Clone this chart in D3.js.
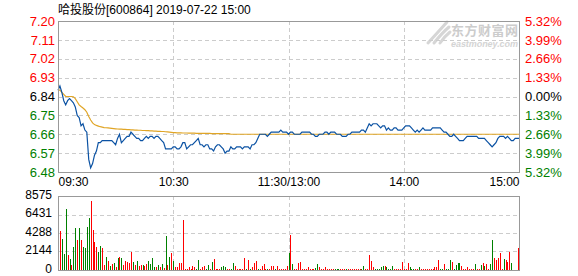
<!DOCTYPE html>
<html>
<head>
<meta charset="utf-8">
<script src="https://cdn.jsdelivr.net/npm/d3@7"></script>
<style>
  body { margin: 0; background: #fff; }
  svg { display: block; font-family: "Liberation Sans", Arial, "Noto Sans CJK SC", sans-serif; }
  .grid line { stroke: #ccc; stroke-dasharray: 4,3; shape-rendering: crispEdges; }
  .grid .domain { display: none; }
  .lbl .domain { display: none; }
</style>
</head>
<body>
<svg id="chart" width="578" height="276"></svg>
<script>
// chart data
const title = "哈投股份[600864] 2019-07-22 15:00";
const timeTicks = [0, 60, 120, 180, 240];
const timeLabels = ["09:30", "10:30", "11:30/13:00", "14:00", "15:00"];
const priceTicks = [7.20, 7.11, 7.02, 6.93, 6.84, 6.75, 6.66, 6.57, 6.48];
const pctLabels = ["5.32%", "3.99%", "2.66%", "1.33%", "0.00%", "1.33%", "2.66%", "3.99%", "5.32%"];
const preClose = 6.84;
const volTicks = [0, 2144, 4288, 6431, 8575];

// one value per minute, 09:30 .. 15:00
const price = [
  6.87, 6.89, 6.86, 6.82, 6.80, 6.82, 6.83, 6.82, 6.81, 6.79,
  6.75, 6.74, 6.70, 6.71, 6.68, 6.67, 6.54, 6.50, 6.52, 6.56,
  6.58, 6.62, 6.62, 6.63, 6.63, 6.63, 6.63, 6.63, 6.63, 6.62,
  6.61, 6.64, 6.66, 6.62, 6.63, 6.64, 6.65, 6.65, 6.67, 6.66,
  6.65, 6.64, 6.64, 6.63, 6.63, 6.64, 6.65, 6.64, 6.65, 6.65,
  6.64, 6.65, 6.65, 6.64, 6.63, 6.62, 6.59, 6.59, 6.59, 6.59,
  6.60, 6.60, 6.59, 6.59, 6.60, 6.62, 6.62, 6.59, 6.60, 6.61,
  6.61, 6.62, 6.63, 6.64, 6.61, 6.61, 6.60, 6.61, 6.61, 6.59,
  6.59, 6.58, 6.60, 6.61, 6.61, 6.60, 6.59, 6.57, 6.58, 6.58,
  6.60, 6.59, 6.59, 6.60, 6.60, 6.60, 6.59, 6.60, 6.60, 6.60,
  6.59, 6.61, 6.61, 6.62, 6.64, 6.66, 6.66, 6.66, 6.66, 6.65,
  6.66, 6.67, 6.67, 6.67, 6.67, 6.67, 6.68, 6.67, 6.67, 6.67,
  6.66, 6.67, 6.67, 6.66, 6.66, 6.66, 6.66, 6.67, 6.67, 6.67,
  6.67, 6.67, 6.66, 6.66, 6.65, 6.65, 6.66, 6.66, 6.66, 6.67,
  6.67, 6.66, 6.67, 6.67, 6.67, 6.66, 6.66, 6.66, 6.65, 6.65,
  6.65, 6.66, 6.66, 6.67, 6.67, 6.67, 6.67, 6.67, 6.68, 6.68,
  6.67, 6.69, 6.71, 6.70, 6.71, 6.71, 6.71, 6.70, 6.69, 6.70,
  6.70, 6.68, 6.69, 6.68, 6.68, 6.69, 6.69, 6.68, 6.68, 6.68,
  6.69, 6.70, 6.70, 6.70, 6.69, 6.68, 6.67, 6.68, 6.67, 6.68,
  6.69, 6.68, 6.68, 6.68, 6.68, 6.69, 6.69, 6.69, 6.69, 6.69,
  6.68, 6.67, 6.67, 6.66, 6.65, 6.65, 6.66, 6.65, 6.64, 6.63,
  6.63, 6.63, 6.64, 6.65, 6.65, 6.65, 6.65, 6.65, 6.65, 6.64,
  6.64, 6.64, 6.64, 6.63, 6.62, 6.61, 6.60, 6.61, 6.62, 6.64,
  6.65, 6.65, 6.65, 6.64, 6.65, 6.64, 6.63, 6.63, 6.64, 6.64, 6.64
];

const avgPrice = [
  6.870, 6.870, 6.860, 6.850, 6.840, 6.840, 6.840, 6.840, 6.838, 6.830,
  6.815, 6.800, 6.792, 6.785, 6.777, 6.765, 6.745, 6.728, 6.714, 6.706,
  6.702, 6.699, 6.696, 6.694, 6.692, 6.691, 6.690, 6.689, 6.688, 6.687,
  6.686, 6.685, 6.684, 6.684, 6.683, 6.683, 6.682, 6.682, 6.681, 6.681,
  6.680, 6.680, 6.679, 6.679, 6.678, 6.678, 6.677, 6.677, 6.676, 6.676,
  6.675, 6.675, 6.674, 6.674, 6.673, 6.673, 6.672, 6.671, 6.670, 6.669,
  6.668, 6.668, 6.667, 6.667, 6.667, 6.666, 6.666, 6.666, 6.665, 6.665,
  6.665, 6.665, 6.664, 6.664, 6.664, 6.664, 6.664, 6.664, 6.664, 6.664,
  6.663, 6.663, 6.663, 6.663, 6.663, 6.663, 6.663, 6.663, 6.663, 6.663,
  6.660, 6.660, 6.660, 6.660, 6.660, 6.660, 6.660, 6.660, 6.660, 6.660,
  6.660, 6.660, 6.660, 6.660, 6.660, 6.660, 6.660, 6.660, 6.660, 6.660,
  6.660, 6.660, 6.660, 6.660, 6.660, 6.660, 6.660, 6.660, 6.660, 6.660,
  6.660, 6.660, 6.660, 6.660, 6.660, 6.660, 6.660, 6.660, 6.660, 6.660,
  6.660, 6.660, 6.660, 6.660, 6.660, 6.660, 6.660, 6.660, 6.660, 6.660,
  6.660, 6.660, 6.660, 6.660, 6.660, 6.660, 6.660, 6.660, 6.660, 6.660,
  6.660, 6.660, 6.660, 6.660, 6.660, 6.660, 6.660, 6.660, 6.660, 6.660,
  6.660, 6.660, 6.660, 6.660, 6.660, 6.660, 6.660, 6.660, 6.660, 6.660,
  6.660, 6.660, 6.660, 6.660, 6.660, 6.660, 6.660, 6.660, 6.660, 6.660,
  6.660, 6.660, 6.660, 6.660, 6.660, 6.660, 6.660, 6.660, 6.660, 6.660,
  6.660, 6.660, 6.660, 6.660, 6.660, 6.660, 6.660, 6.660, 6.660, 6.660,
  6.660, 6.660, 6.660, 6.660, 6.660, 6.660, 6.660, 6.660, 6.660, 6.660,
  6.660, 6.660, 6.660, 6.660, 6.660, 6.660, 6.660, 6.660, 6.660, 6.660,
  6.660, 6.660, 6.660, 6.660, 6.660, 6.660, 6.660, 6.660, 6.660, 6.660,
  6.660, 6.660, 6.660, 6.660, 6.660, 6.660, 6.660, 6.660, 6.660, 6.660, 6.660
];

const volume = [
  0, 4560, 3580, 1890, 7110, 1690, 1300, 630, 2670, 4870,
  3500, 4870, 3500, 2670, 2590, 5030, 6050, 7980, 4680, 3260,
  2710, 2080, 2750, 2515, 630, 1530, 1020, 430, 710, 825,
  315, 1340, 1530, 1340, 550, 1100, 900, 825, 2040, 940,
  630, 1020, 430, 630, 550, 430, 750, 1020, 750, 1415,
  315, 315, 630, 315, 710, 200, 3930, 630, 1490, 2000,
  1100, 315, 315, 785, 825, 5800, 60, 100, 300, 100,
  430, 300, 100, 1150, 100, 300, 460, 100, 580, 100,
  900, 1270, 80, 80, 80, 350, 460, 310, 80, 80,
  150, 810, 460, 150, 80, 80, 80, 1390, 150, 1160,
  80, 350, 810, 1040, 80, 150, 500, 690, 80, 80,
  150, 460, 460, 150, 460, 80, 80, 80, 80, 460,
  1970, 4010, 690, 80, 80, 810, 930, 80, 80, 80,
  350, 80, 80, 150, 200, 690, 350, 80, 80, 350,
  80, 80, 80, 150, 80, 80, 80, 80, 150, 80,
  80, 80, 150, 80, 80, 80, 80, 150, 80, 460,
  80, 80, 1740, 1040, 350, 80, 80, 80, 350, 460,
  460, 350, 150, 80, 460, 80, 80, 80, 150, 930,
  80, 80, 810, 350, 150, 150, 80, 80, 350, 80,
  80, 80, 80, 80, 80, 80, 350, 350, 1160, 80,
  150, 690, 150, 150, 1160, 930, 80, 580, 810, 810,
  460, 80, 80, 350, 80, 80, 80, 690, 80, 80,
  580, 810, 460, 690, 100, 690, 3460, 1390, 1160, 1390,
  1970, 150, 1270, 1160, 930, 2080, 810, 0, 0, 0, 2550
];

// u = up minute (red), d = down minute (green)
const volDir = (
  "uudddududd" + "ududddduuu" + "udduududud" + "ududuuuuud" + "uduuduuddd" +
  "dududududu" + "duuuuuuuuu" + "uudduuuddu" + "duuuuddduu" + "dduuuuuudu" +
  "duuuduuuud" + "uuuduuuuuu" + "duduuuuuuu" + "uuuudduuuu" + "uuuuddduuu" +
  "duuuuuuudd" + "uuuuuddddd" + "udddduuuuu" + "uuuddduudu" + "uuuuuuuuud" +
  "dudddudddd" + "uuuuuuuduu" + "duduudduuu" + "uuduuuduuuu"
).split("");

const svg = d3.select("#chart");

// layout
const L = 58, R = 519, T = 21, B = 172, VT = 196, VB = 270;
const up = "#ff0000", down = "#008000", frameColor = "#999";

const x = d3.scaleLinear().domain([0, 240]).range([L, R]);
const y = d3.scaleLinear().domain([6.48, 7.20]).range([B, T]);
const yv = d3.scaleLinear().domain([0, 8575]).range([VB, VT]);

// watermark
const wm = svg.append("g").attr("class", "watermark");
[[428, 43, 440, 30, 447, 22], [434, 43, 442, 33, 449, 27], [440, 43, 445, 36, 450, 32]].forEach(p => {
  wm.append("path")
    .attr("d", `M${p[0]},${p[1]} Q${p[2]},${p[3]} ${p[4]},${p[5]}`)
    .attr("fill", "none").attr("stroke", "#d6d6d6").attr("stroke-width", 3)
    .attr("stroke-linecap", "round");
});
wm.append("text").attr("x", 451).attr("y", 35)
  .attr("font-family", "Noto Sans CJK SC").attr("font-weight", "bold")
  .attr("font-size", 13).attr("fill", "#cccccc")
  .attr("textLength", 67).text("东方财富网");
wm.append("text").attr("x", 451).attr("y", 47)
  .attr("font-size", 9).attr("font-weight", "bold").attr("font-style", "italic")
  .attr("fill", "#d4d4d4").attr("textLength", 67).text("eastmoney.com");

// grids
svg.append("g").attr("class", "grid")
  .attr("transform", `translate(${L},0)`)
  .call(d3.axisLeft(y).tickValues(priceTicks.slice(1, -1)).tickSize(-(R - L)).tickFormat(""));
svg.append("g").attr("class", "grid")
  .attr("transform", `translate(0,${B})`)
  .call(d3.axisBottom(x).tickValues(timeTicks.slice(1, -1)).tickSize(-(B - T)).tickFormat(""));
svg.append("g").attr("class", "grid")
  .attr("transform", `translate(${L},0)`)
  .call(d3.axisLeft(yv).tickValues(volTicks.slice(1, -1)).tickSize(-(R - L)).tickFormat(""));
svg.append("g").attr("class", "grid")
  .attr("transform", `translate(0,${VB})`)
  .call(d3.axisBottom(x).tickValues(timeTicks.slice(1, -1)).tickSize(-(VB - VT)).tickFormat(""));

// volume bars
svg.append("g").selectAll("rect")
  .data(volume)
  .join("rect")
  .attr("x", (d, i) => Math.min(Math.round(x(i)), R - 1))
  .attr("y", d => yv(d))
  .attr("width", 1)
  .attr("height", d => VB - yv(d))
  .attr("fill", (d, i) => volDir[i] === "u" ? up : down)
  .attr("shape-rendering", "crispEdges");

// average and price lines
const line = d3.line().x((d, i) => x(i)).y(d => y(d));
svg.append("path").datum(avgPrice)
  .attr("d", line).attr("fill", "none")
  .attr("stroke", "#e0a526").attr("stroke-width", 1.2);
svg.append("path").datum(price)
  .attr("d", line).attr("fill", "none")
  .attr("stroke", "#0b52a3").attr("stroke-width", 1.2);

// frames
[[T, B], [VT, VB]].forEach(([t, b]) => {
  svg.append("rect")
    .attr("x", L + 0.5).attr("y", t + 0.5)
    .attr("width", R - L).attr("height", b - t)
    .attr("fill", "none").attr("stroke", frameColor)
    .attr("shape-rendering", "crispEdges");
});

// price labels (left)
const colorFor = v => v > preClose + 1e-9 ? up : (v < preClose - 1e-9 ? down : "#000");
const leftAx = svg.append("g").attr("class", "lbl")
  .attr("transform", `translate(${L},0)`)
  .call(d3.axisLeft(y).tickValues(priceTicks).tickSize(0).tickPadding(3).tickFormat(d3.format(".2f")));
leftAx.selectAll("text").attr("font-size", 13).attr("fill", d => colorFor(d));

// percent labels (right)
const rightAx = svg.append("g").attr("class", "lbl")
  .attr("transform", `translate(${R},0)`)
  .call(d3.axisRight(y).tickValues(priceTicks).tickSize(0).tickPadding(6).tickFormat((d, i) => pctLabels[i]));
rightAx.selectAll("text").attr("font-size", 13).attr("fill", d => colorFor(d));

// volume labels
const volAx = svg.append("g").attr("class", "lbl")
  .attr("transform", `translate(${L},0)`)
  .call(d3.axisLeft(yv).tickValues(volTicks).tickSize(0).tickPadding(6).tickFormat(d3.format("d")));
volAx.selectAll("text").attr("font-size", 12).attr("fill", "#000").attr("dy", "0.2em");

// time labels
const timeAx = svg.append("g").attr("class", "lbl")
  .attr("transform", `translate(0,${B})`)
  .call(d3.axisBottom(x).tickValues(timeTicks).tickSize(0).tickPadding(5).tickFormat((d, i) => timeLabels[i]));
timeAx.selectAll("text")
  .attr("font-size", 12).attr("fill", "#000")
  .attr("text-anchor", (d, i) => i === 0 ? "start" : (i === timeTicks.length - 1 ? "end" : "middle"));

// title
svg.append("text")
  .attr("x", L).attr("y", 14)
  .attr("font-size", 12).attr("fill", "#000")
  .text(title);
</script>
</body>
</html>
